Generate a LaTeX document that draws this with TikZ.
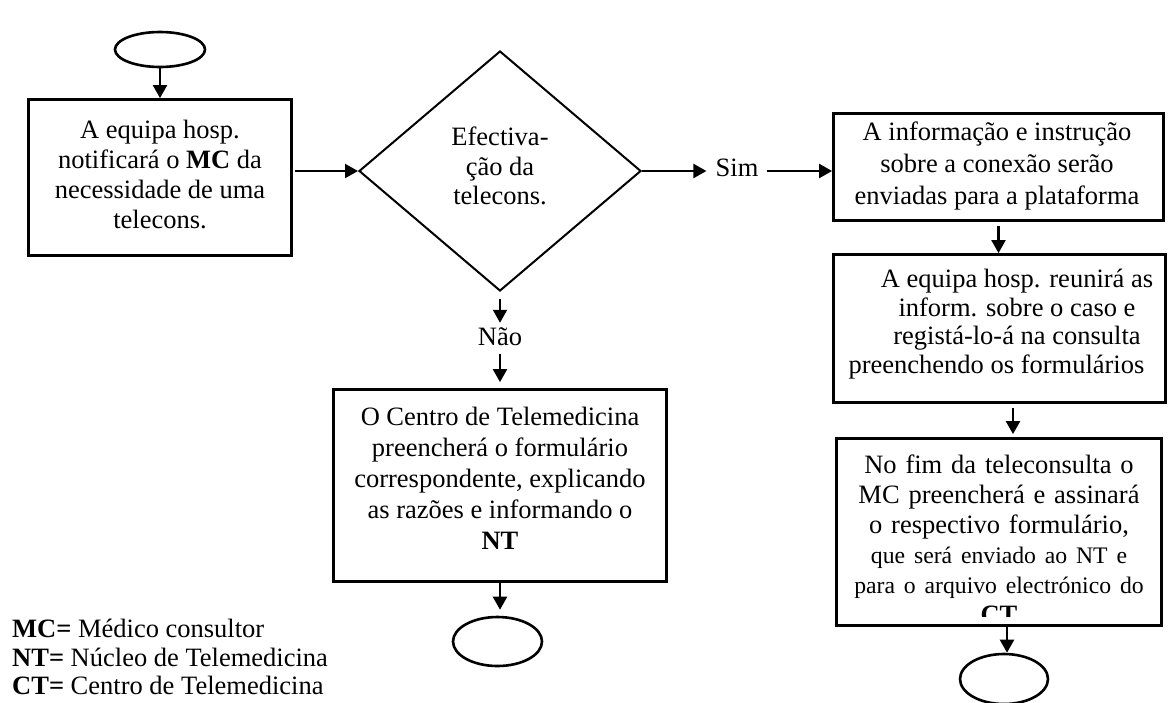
\documentclass[tikz,border=0pt]{standalone}
\usepackage{fontspec}
\setmainfont{Liberation Serif}
\usetikzlibrary{shapes.geometric,arrows.meta}

\begin{document}
\begin{tikzpicture}[x=1pt,y=-1pt,
  box/.style={draw, line width=2.8pt, inner sep=0pt},
  term/.style={draw, ellipse, line width=2.6pt, inner sep=0pt},
  decision/.style={draw, diamond, line width=2pt, inner sep=0pt},
  txt/.style={inner sep=0pt, align=center, font=\fontsize{26.5}{30}\selectfont},
  conn/.style={line width=2.2pt, -{Triangle[length=13pt,width=14pt]}}]

\useasboundingbox (0,0) rectangle (1169,702);

% start terminal and first step
\node[term, minimum width=90pt, minimum height=35pt] (e1) at (160,49.5) {};
\node[box, minimum width=263pt, minimum height=156pt] (b1) at (160,177.5) {};
\node[txt] (t1) at (160,174) {A equipa hosp.\\ notificará o \textbf{MC} da\\ necessidade de uma\\ telecons.};

% decision
\node[decision, minimum width=282pt, minimum height=240pt] (d) at (500,171) {};
\node[txt, font=\fontsize{26.5}{29.5}\selectfont] (dt) at (500,166) {Efectiva-\\ ção da\\ telecons.};
\node[txt] (sim) at (737,168) {Sim};
\node[txt] (nao) at (500,337) {Não};

% "no" branch
\node[box, minimum width=333pt, minimum height=192pt] (b3) at (500,485.5) {};
\node[txt, font=\fontsize{26.5}{31}\selectfont] (t3) at (500,478) {O Centro de Telemedicina\\ preencherá o formulário\\ correspondente, explicando\\ as razões e informando o\\ \textbf{NT}};
\node[term, minimum width=89pt, minimum height=49pt] (e2) at (497.5,641.5) {};

% "yes" branch
\node[box, minimum width=330pt, minimum height=107pt] (b2) at (998.5,167) {};
\node[txt, font=\fontsize{26.5}{32}\selectfont] (t2) at (997,166) {A informação e instrução\\ sobre a conexão serão\\ enviadas para a plataforma};

\node[box, minimum width=332pt, minimum height=148pt] (b4) at (999.5,328.5) {};
\node[txt, font=\fontsize{26.5}{28.5}\selectfont] (t4) at (1017,324) {A equipa hosp. reunirá as\\ inform. sobre o caso e\\ registá-lo-á na consulta\\ \hspace*{-41pt}preenchendo os formulários};

\node[box, minimum width=325pt, minimum height=187pt] (b5) at (999,532) {};
\begin{scope}
  \clip (835,437) rectangle (1163,616);
  \node[txt, text width=326pt] (t5) at (999,539) {No fim da teleconsulta o\\ MC preencherá e assinará\\ o respectivo formulário,\\ {\fontsize{23.7}{30}\selectfont que será enviado ao NT e\\ para o arquivo electrónico do}\\ \textbf{CT}};
\end{scope}
\node[term, minimum width=88pt, minimum height=50pt] (e3) at (1004,679) {};

% legend
\node[txt, anchor=west, align=left, font=\fontsize{26.5}{28.5}\selectfont] (leg) at (12,657) {\textbf{MC=} Médico consultor\\ \textbf{NT=} Núcleo de Telemedicina\\ \textbf{CT=} Centro de Telemedicina};

% connectors
\draw[conn] (e1.south) -- (e1.south |- b1.north);
\draw[conn, shorten <=2pt] (b1.east |- d.west) -- (d.west);
\draw[conn, shorten >=9pt] (d.east) -- (d.east -| sim.west);
\draw[conn, shorten <=8pt] (d.east -| sim.east) -- (d.east -| b2.west);
\draw[conn, shorten <=7pt, shorten >=5pt] (d.south) -- (nao.north);
\draw[conn, shorten <=8pt, shorten >=6pt] (nao.south) -- (b3.north);
\draw[conn, shorten >=6pt] (b3.south) -- (b3.south |- e2.north);
\draw[conn, shorten <=4pt] (b2.south) -- (b2.south |- b4.north);
\draw[conn, shorten <=4pt, shorten >=3pt] ([xshift=13.5pt]b4.south) -- ([xshift=13.5pt]b4.south |- b5.north);
\draw[conn] ([xshift=8pt]b5.south) -- ([xshift=8pt]b5.south |- e3.north);

\end{tikzpicture}
\end{document}
